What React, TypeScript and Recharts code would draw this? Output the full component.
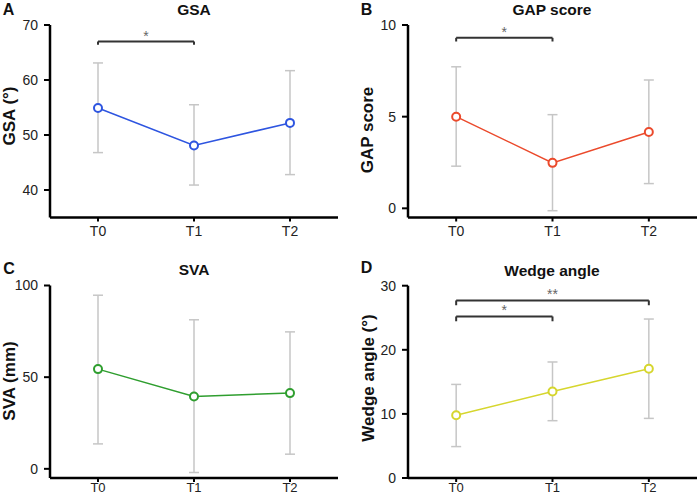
import React from 'react'
import { ComposedChart, Line, XAxis, YAxis, ErrorBar, ReferenceLine } from 'recharts'

const FONT = '"Liberation Sans", Arial, Helvetica, sans-serif'

const categories = ['T0', 'T1', 'T2']

// GSA (°)
const gsaMean = [54.9, 48.1, 52.2]
const gsaLow = [46.8, 40.9, 42.8]
const gsaHigh = [63.1, 55.5, 61.7]

// GAP score
const gapMean = [5.0, 2.48, 4.16]
const gapLow = [2.3, -0.13, 1.35]
const gapHigh = [7.72, 5.11, 7.0]

// SVA (mm)
const svaMean = [54.4, 39.5, 41.3]
const svaLow = [13.6, -2, 8]
const svaHigh = [94.7, 81.3, 74.7]

// Wedge angle (°)
const wedgeMean = [9.8, 13.5, 17.05]
const wedgeLow = [4.9, 8.94, 9.3]
const wedgeHigh = [14.6, 18.1, 24.8]

const gsaTicks = [40, 50, 60, 70]
const gapTicks = [0, 5, 10]
const svaTicks = [0, 50, 100]
const wedgeTicks = [0, 10, 20, 30]

interface Bracket {
  from: string
  to: string
  y: number
  drop: number
  mark: string
}

const gsaBrackets: Bracket[] = [{ from: 'T0', to: 'T1', y: 67, drop: 0.6, mark: '*' }]
const gapBrackets: Bracket[] = [{ from: 'T0', to: 'T1', y: 9.3, drop: 0.2, mark: '*' }]
const svaBrackets: Bracket[] = []
const wedgeBrackets: Bracket[] = [
  { from: 'T0', to: 'T1', y: 25.2, drop: 0.75, mark: '*' },
  { from: 'T0', to: 'T2', y: 27.7, drop: 0.75, mark: '**' },
]

interface PanelProps {
  left: number
  top: number
  width: number
  height: number
  marginTop: number
  marginRight: number
  yWidth: number
  xHeight: number
  xGap: number
  color: string
  mean: number[]
  low: number[]
  high: number[]
  domain: [number, number]
  ticks: number[]
  brackets: Bracket[]
}

function Panel(p: PanelProps) {
  const data = categories.map((name, i) => ({
    name,
    mean: p.mean[i],
    err: [p.mean[i] - p.low[i], p.high[i] - p.mean[i]],
  }))
  const tickStyle = { fontSize: 14, fill: '#222', fontFamily: FONT }
  return (
    <div style={{ position: 'absolute', left: p.left, top: p.top }}>
      <ComposedChart
        width={p.width}
        height={p.height}
        data={data}
        margin={{ top: p.marginTop, right: p.marginRight, bottom: 0, left: 0 }}
      >
        <XAxis
          dataKey="name"
          scale="band"
          height={p.xHeight}
          tick={{ ...tickStyle, fontSize: p.xGap < 4 ? 13 : 14 }}
          tickSize={4}
          tickMargin={p.xGap}
          axisLine={{ stroke: '#000', strokeWidth: 2.5 }}
          tickLine={{ stroke: '#000', strokeWidth: 2 }}
        />
        <YAxis
          type="number"
          width={p.yWidth}
          domain={p.domain}
          ticks={p.ticks}
          allowDataOverflow
          interval={0}
          tick={tickStyle}
          tickSize={6}
          tickMargin={6}
          axisLine={{ stroke: '#000', strokeWidth: 2.5 }}
          tickLine={{ stroke: '#000', strokeWidth: 2 }}
        />
        {p.brackets.map((b, i) => (
          <React.Fragment key={i}>
            <ReferenceLine
              segment={[{ x: b.from, y: b.y }, { x: b.to, y: b.y }]}
              stroke="#333"
              strokeWidth={2}
              ifOverflow="visible"
              label={{ value: b.mark, position: 'top', offset: 1, fontSize: 14, fill: '#666', fontFamily: FONT }}
            />
            <ReferenceLine
              segment={[{ x: b.from, y: b.y }, { x: b.from, y: b.y - b.drop }]}
              stroke="#333"
              strokeWidth={2}
              ifOverflow="visible"
            />
            <ReferenceLine
              segment={[{ x: b.to, y: b.y }, { x: b.to, y: b.y - b.drop }]}
              stroke="#333"
              strokeWidth={2}
              ifOverflow="visible"
            />
          </React.Fragment>
        ))}
        <Line
          dataKey="mean"
          stroke={p.color}
          strokeWidth={1.5}
          isAnimationActive={false}
          dot={{ r: 4, fill: '#fff', stroke: p.color, strokeWidth: 2 }}
          activeDot={false}
        >
          <ErrorBar dataKey="err" direction="y" width={5} stroke="#c6c6c6" strokeWidth={1.5} isAnimationActive={false} />
        </Line>
      </ComposedChart>
    </div>
  )
}

function Text({ x, y, size, text, rotate }: { x: number; y: number; size: number; text: string; rotate?: boolean }) {
  return (
    <div
      style={{
        position: 'absolute',
        left: x,
        top: y,
        transform: `translate(-50%, -50%)${rotate ? ' rotate(-90deg)' : ''}`,
        fontFamily: FONT,
        fontWeight: 'bold',
        fontSize: size,
        lineHeight: 1,
        whiteSpace: 'nowrap',
        color: '#111',
      }}
    >
      {text}
    </div>
  )
}

export default function App() {
  return (
    <div style={{ position: 'absolute', left: 0, top: 0, width: 697, height: 498, background: '#fff', overflow: 'hidden' }}>
      <Panel
        left={0} top={0} width={348} height={248} marginTop={25} marginRight={10} yWidth={50} xHeight={30.5} xGap={5}
        color="#2e55e0" mean={gsaMean} low={gsaLow} high={gsaHigh} domain={[35, 70]} ticks={gsaTicks} brackets={gsaBrackets}
      />
      <Panel
        left={348} top={0} width={349} height={248} marginTop={25} marginRight={0} yWidth={60} xHeight={30.5} xGap={5}
        color="#eb4a2c" mean={gapMean} low={gapLow} high={gapHigh} domain={[-0.5, 10]} ticks={gapTicks} brackets={gapBrackets}
      />
      <Panel
        left={0} top={248} width={348} height={250} marginTop={37.5} marginRight={10} yWidth={50} xHeight={20} xGap={1}
        color="#2f9e2f" mean={svaMean} low={svaLow} high={svaHigh} domain={[-5, 100]} ticks={svaTicks} brackets={svaBrackets}
      />
      <Panel
        left={348} top={248} width={349} height={250} marginTop={37.7} marginRight={0} yWidth={60} xHeight={20} xGap={1}
        color="#d6d62e" mean={wedgeMean} low={wedgeLow} high={wedgeHigh} domain={[0, 30]} ticks={wedgeTicks} brackets={wedgeBrackets}
      />

      <Text x={8.5} y={10} size={16} text="A" />
      <Text x={366.5} y={10} size={16} text="B" />
      <Text x={9} y={269} size={16} text="C" />
      <Text x={366.5} y={268} size={16} text="D" />

      <Text x={194} y={10} size={15.5} text="GSA" />
      <Text x={552} y={10} size={15.5} text="GAP score" />
      <Text x={194} y={270} size={15.5} text="SVA" />
      <Text x={552} y={271} size={15.5} text="Wedge angle" />

      <Text x={9} y={116} size={17} text="GSA (°)" rotate />
      <Text x={367} y={130} size={17} text="GAP score" rotate />
      <Text x={9} y={381} size={17} text="SVA (mm)" rotate />
      <Text x={367.5} y={378} size={17} text="Wedge angle (°)" rotate />
    </div>
  )
}
